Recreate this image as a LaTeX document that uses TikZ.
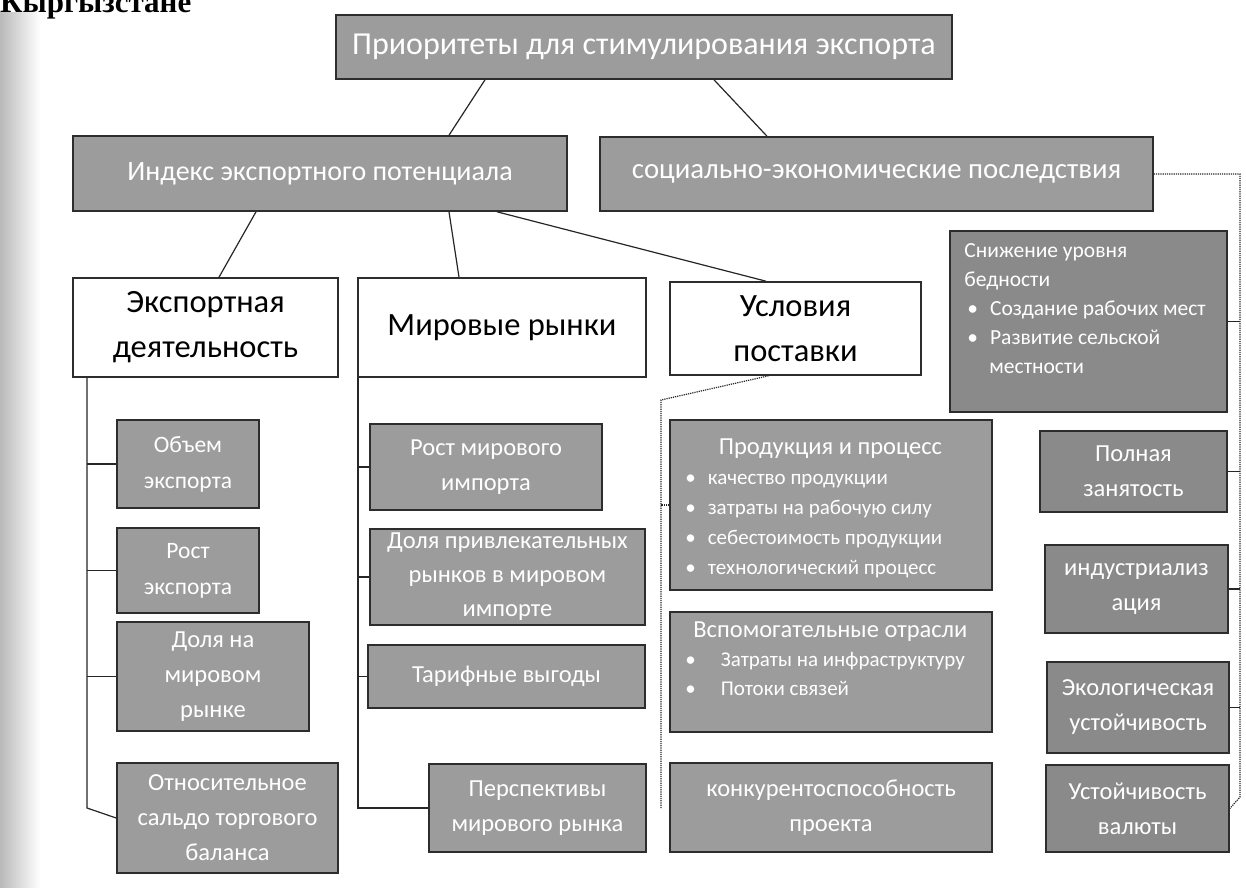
\documentclass[tikz,border=0pt]{standalone}
\usepackage{fontspec}
\setmainfont{Carlito}
\newfontfamily\headfont{Liberation Serif}
\usetikzlibrary{calc}
\definecolor{gfill}{RGB}{156,156,156}
\definecolor{gfilld}{RGB}{138,138,138}
\definecolor{bline}{RGB}{45,45,45}
\begin{document}
\begin{tikzpicture}[x=1pt,y=-1pt,
  gbox/.style={draw=bline, line width=1.6pt, fill=gfill, text=white, align=center, inner sep=0pt,
    font=\fontsize{24.5}{35}\selectfont},
  rbox/.style={gbox, fill=gfilld},
  hbox/.style={gbox, font=\fontsize{28}{34}\selectfont},
  wbox/.style={draw=bline, line width=1.6pt, fill=white, text=black, align=center, inner sep=0pt,
    font=\fontsize{32.5}{45}\selectfont},
  ltext/.style={text=white, inner sep=0pt, anchor=base west},
  conn/.style={draw=black!85, line width=1.2pt},
  dconn/.style={conn, densely dotted}]
\useasboundingbox (0,0) rectangle (1246,887);
\clip (0,0) rectangle (1246,887);
\fill[white] (0,0) rectangle (1246,887);
\shade[left color=gray!55, right color=white] (0,12) rectangle (40,887);
\node[anchor=base west, inner sep=0pt, font=\headfont\bfseries\fontsize{31}{31}\selectfont] (hd) at (0,12) {Кыргызстане};

% level 1-2
\node[hbox, font=\fontsize{32}{36}\selectfont, minimum width=616pt, minimum height=64pt] (top) at (644,47) {Приоритеты для стимулирования экспорта};
\node[hbox, minimum width=494pt, minimum height=75pt] (idx) at (320,173.5) {Индекс экспортного потенциала};
\node[hbox, font=\fontsize{28.8}{34}\selectfont, minimum width=553pt, minimum height=74pt] (soc) at (876.5,174) {социально-экономические последствия};

% level 3 white boxes
\node[wbox, minimum width=265pt, minimum height=99pt] (exp) at (205.5,327.5) {Экспортная\\деятельность};
\node[wbox, minimum width=288pt, minimum height=99pt] (mir) at (502,327.5) {Мировые рынки};
\node[wbox, minimum width=251pt, minimum height=93pt] (usl) at (795.5,328.5) {Условия\\поставки};

% left column
\node[gbox, font=\fontsize{23.5}{36}\selectfont, minimum width=142pt, minimum height=88pt] (ob) at (188,464) {Объем\\экспорта};
\node[gbox, font=\fontsize{23.5}{36}\selectfont, minimum width=142pt, minimum height=85pt] (rost) at (188,570.5) {Рост\\экспорта};
\node[gbox, minimum width=192pt, minimum height=109pt] (dol) at (213,676.5) {Доля на\\мировом\\рынке};
\node[gbox, minimum width=221pt, minimum height=110pt] (otn) at (227.5,818) {Относительное\\сальдо торгового\\баланса};

% middle column
\node[gbox, minimum width=232pt, minimum height=86pt] (rmi) at (486,467) {Рост мирового\\импорта};
\node[gbox, minimum width=275pt, minimum height=96pt, font=\fontsize{24.5}{34}\selectfont] (dpr) at (507.5,577) {Доля привлекательных\\рынков в мировом\\импорте};
\node[gbox, minimum width=277pt, minimum height=63pt] (tar) at (506.5,676.5) {Тарифные выгоды};
\node[gbox, minimum width=217pt, minimum height=88pt] (per) at (537.5,808) {Перспективы\\мирового рынка};

% conditions column
\node[gbox, minimum width=322pt, minimum height=170pt] (prod) at (831,505) {};
\node[ltext, font=\fontsize{21}{30}\selectfont] (prodt) at ($(prod.north west)+(16,35)$)
  {\parbox[t]{290pt}{\raggedright
   \makebox[290pt][c]{\fontsize{24.5}{30}\selectfont Продукция и процесс}\\
   •\hspace{12pt}качество продукции\\
   •\hspace{12pt}затраты на рабочую силу\\
   •\hspace{12pt}себестоимость продукции\\
   •\hspace{12pt}технологический процесс}};
\node[gbox, minimum width=322pt, minimum height=120pt] (vsp) at (831,672) {};
\node[ltext, font=\fontsize{21}{29}\selectfont] (vspt) at ($(vsp.north west)+(16,26)$)
  {\parbox[t]{290pt}{\raggedright
   \makebox[290pt][c]{\fontsize{24.5}{29}\selectfont Вспомогательные отрасли}\\
   •\hspace{25pt}Затраты на инфраструктуру\\
   •\hspace{25pt}Потоки связей}};
\node[gbox, minimum width=322pt, minimum height=89pt] (kon) at (831,807.5) {конкурентоспособность\\проекта};

% right column
\node[rbox, minimum width=277pt, minimum height=181pt] (sniz) at (1088.5,321.5) {};
\node[ltext, font=\fontsize{21.5}{29}\selectfont] (snizt) at ($(sniz.north west)+(15,27)$)
  {\parbox[t]{258pt}{\raggedright
   Снижение уровня\\
   бедности\\
   \hspace*{3pt}•\hspace{12pt}Создание рабочих мест\\
   \hspace*{3pt}•\hspace{12pt}Развитие сельской\\
   \hspace*{25pt}местности}};
\node[rbox, minimum width=187pt, minimum height=81pt] (pol) at (1133.5,471.5) {Полная\\занятость};
\node[rbox, minimum width=183pt, minimum height=88pt] (ind) at (1136.5,589) {индустриализ\\ация};
\node[rbox, minimum width=182pt, minimum height=91pt] (eko) at (1138,707.5) {Экологическая\\устойчивость};
\node[rbox, minimum width=183pt, minimum height=87pt] (ust) at (1137.5,808.5) {Устойчивость\\валюты};

% connectors: top levels
\draw[conn] ([xshift=-159pt]top.south) -- ([xshift=129pt]idx.north);
\draw[conn] ([xshift=70pt]top.south) -- ([xshift=-109.5pt]soc.north);
\draw[conn] ([xshift=-64pt]idx.south) -- ([xshift=13.5pt]exp.north);
\draw[conn] ([xshift=129pt]idx.south) -- ([xshift=-43pt]mir.north);
\draw[conn] ([xshift=177pt]idx.south) -- ([xshift=-29.5pt]usl.north);

% left trunk
\coordinate (lb) at (87,808);
\draw[conn] (exp.south -| lb) -- (lb) -- (otn.west);
\draw[conn] (ob.west) -- (ob.west -| lb);
\draw[conn] (rost.west) -- (rost.west -| lb);
\draw[conn] (dol.west) -- (dol.west -| lb);

% middle trunk
\coordinate (mb) at (358,808);
\draw[conn] (mir.south -| mb) -- (mb) -- (per.west);
\draw[conn] (rmi.west) -- (rmi.west -| mb);
\draw[conn] (dpr.west) -- (dpr.west -| mb);
\draw[conn] (tar.west) -- (tar.west -| mb);

% conditions trunk
\coordinate (ua) at (661,400);
\coordinate (ub) at (661,808);
\draw[dconn] ([xshift=-27pt]usl.south) -- (ua) -- (ub);
\draw[dconn] (prod.west) -- (prod.west -| ua);

% right trunk
\coordinate (ra) at (1240,174);
\coordinate (rb) at (1240,797);
\draw[dconn] (soc.east) -- (ra) -- (rb) -- (ust.east);
\draw[conn] (sniz.east) -- (sniz.east -| ra);
\draw[conn] (pol.east) -- (pol.east -| ra);
\draw[conn] (ind.east) -- (ind.east -| ra);
\draw[conn] (eko.east) -- (eko.east -| ra);
\end{tikzpicture}
\end{document}
